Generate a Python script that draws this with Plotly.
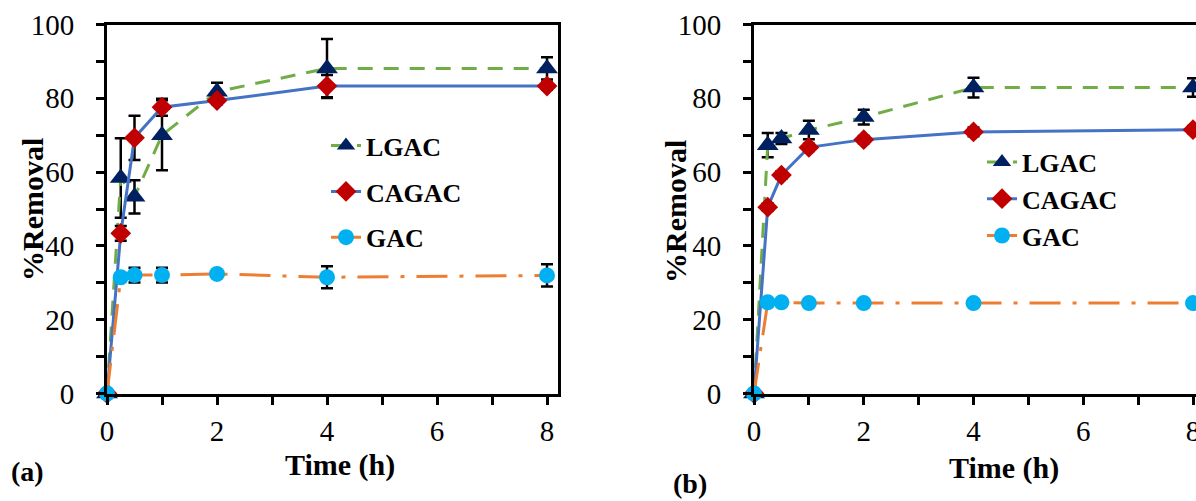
import plotly.graph_objects as go

W, H = 1196, 501

time_h = [0, 0.25, 0.5, 1, 2, 4, 8]

# Panel (a)
a_lgac = [0, 58.4, 53.3, 70.0, 81.8, 88.1, 88.1]
a_lgac_err = [0, 10.8, 4.5, 9.5, 2.4, 8.0, 3.0]
a_cagac = [0, 43.4, 69.3, 77.6, 79.4, 83.3, 83.3]
a_cagac_err = [0, 2.0, 6.0, 2.3, 1.0, 3.0, 1.0]
a_gac = [0, 31.5, 32.1, 32.1, 32.4, 31.5, 32.0]
a_gac_err = [0, 1.0, 2.0, 2.0, 1.0, 3.0, 3.0]

# Panel (b)
b_lgac = [0, 67.3, 69.1, 71.4, 74.9, 82.9, 82.9]
b_lgac_err = [0, 3.3, 1.5, 2.5, 2.0, 2.7, 2.5]
b_cagac = [0, 50.5, 59.2, 66.7, 68.8, 70.9, 71.5]
b_cagac_err = [0, 1.0, 1.0, 1.0, 1.0, 1.2, 1.0]
b_gac = [0, 24.7, 24.7, 24.5, 24.5, 24.5, 24.5]
b_gac_err = [0, 0.5, 0.5, 0.5, 0.5, 0.5, 0.5]

series_names = ["LGAC", "CAGAC", "GAC"]
line_colors = ["#70AD47", "#4472C4", "#ED7D31"]
marker_colors = ["#002060", "#C00000", "#00B0F0"]
symbols = ["triangle-up", "diamond", "circle"]
marker_sizes = [19, 16, 16]
dashes = ["15px,11px", "solid", "31px,12px,4px,12px"]

FONT = "Liberation Serif"

fig = go.Figure()

panels = [
    ("x", "y", "legend", [a_lgac, a_cagac, a_gac], [a_lgac_err, a_cagac_err, a_gac_err]),
    ("x2", "y2", "legend2", [b_lgac, b_cagac, b_gac], [b_lgac_err, b_cagac_err, b_gac_err]),
]

for xa, ya, lg, vals, errs in panels:
    for i in range(3):
        fig.add_trace(go.Scatter(
            x=time_h, y=vals[i], name=series_names[i],
            xaxis=xa, yaxis=ya, legend=lg, legendgroup=lg + series_names[i],
            mode="lines+markers", cliponaxis=False,
            line=dict(color=line_colors[i], width=3, dash=dashes[i]),
            marker=dict(symbol=symbols[i], size=marker_sizes[i], color=marker_colors[i]),
            error_y=dict(type="data", array=errs[i], visible=True, color="black",
                         thickness=2.5, width=6),
        ))

ydom = [1 - 393.5 / H, 1 - 24.5 / H]
tickfont = dict(family=FONT, size=29, color="black")
minor = dict(ticks="outside", ticklen=8, tickwidth=3, tickcolor="black")
common_axis = dict(showgrid=False, zeroline=False, showline=True, linecolor="black",
                   linewidth=3, ticks="outside", ticklen=8, tickwidth=3, tickcolor="black",
                   tickfont=tickfont, automargin=False)

fig.update_layout(
    template="none",
    width=W, height=H, margin=dict(l=0, r=0, t=0, b=0, pad=0),
    paper_bgcolor="white", plot_bgcolor="white",
    font=dict(family=FONT, color="black"),
    xaxis=dict(domain=[107 / W, 558 / W], range=[0, 8.2], anchor="y", tick0=0, dtick=2,
               mirror=True, minor=dict(dtick=1, **minor), ticklabelstandoff=2, **common_axis),
    yaxis=dict(domain=ydom, range=[0, 100], anchor="x", tick0=0, dtick=20, mirror=True,
               minor=dict(dtick=10, **minor), ticklabelstandoff=16, **common_axis),
    xaxis2=dict(domain=[754 / W, 1.0], range=[0, 442 / 54.875], anchor="y2", tick0=0, dtick=2,
                mirror=True, minor=dict(dtick=1, **minor), ticklabelstandoff=2,
                ticklabeloverflow="allow", **common_axis),
    yaxis2=dict(domain=ydom, range=[0, 100], anchor="x2", tick0=0, dtick=20, mirror=False,
                minor=dict(dtick=10, **minor), ticklabelstandoff=16, **common_axis),
    legend=dict(x=326 / W, y=1 - 191.7 / H, xanchor="left", yanchor="middle",
                bgcolor="rgba(0,0,0,0)", borderwidth=0, traceorder="grouped", tracegroupgap=9,
                font=dict(family=FONT, size=26, color="black", weight="bold")),
    legend2=dict(x=982 / W, y=1 - 199 / H, xanchor="left", yanchor="middle",
                 bgcolor="rgba(0,0,0,0)", borderwidth=0, traceorder="grouped", tracegroupgap=0,
                 font=dict(family=FONT, size=26, color="black", weight="bold")),
    showlegend=True,
)

bold30 = dict(family=FONT, size=30, color="black", weight="bold")
ann = [
    dict(text="%Removal", x=32 / W, y=1 - 210 / H, textangle=-90, font=bold30),
    dict(text="%Removal", x=675 / W, y=1 - 212 / H, textangle=-90, font=bold30),
    dict(text="Time (h)", x=340 / W, y=1 - 465 / H, font=bold30),
    dict(text="Time (h)", x=1004 / W, y=1 - 468 / H, font=bold30),
    dict(text="(a)", x=27 / W, y=1 - 471 / H, font=dict(family=FONT, size=28, color="black", weight="bold")),
    dict(text="(b)", x=690 / W, y=1 - 483 / H, font=dict(family=FONT, size=28, color="black", weight="bold")),
]
for a in ann:
    a.update(xref="paper", yref="paper", showarrow=False, xanchor="center", yanchor="middle")
fig.update_layout(annotations=ann)

fig.write_html("out.html")
